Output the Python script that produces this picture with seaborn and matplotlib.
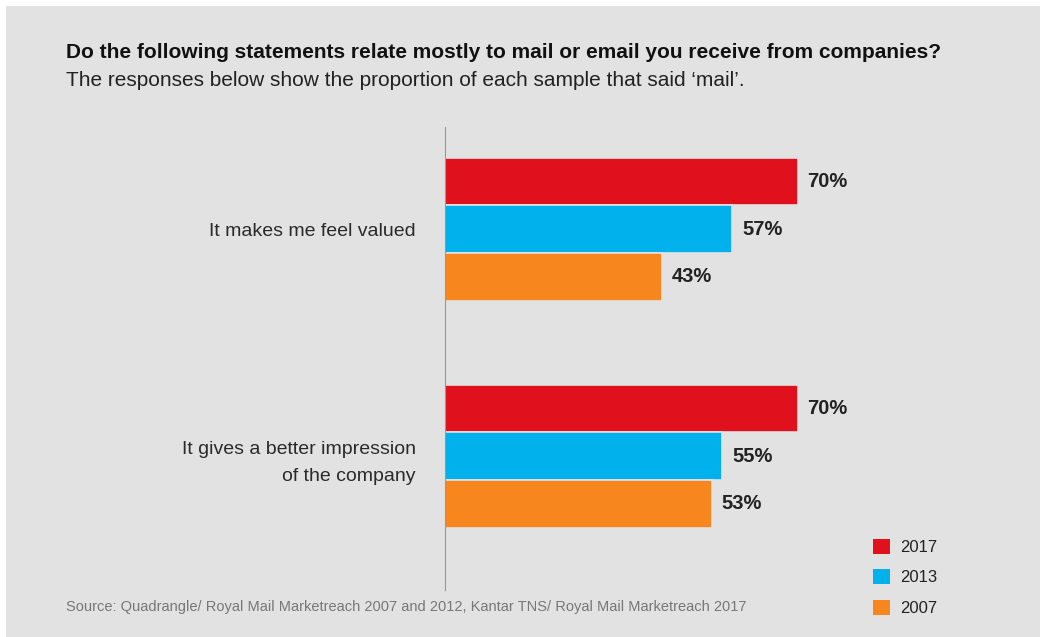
import pandas as pd
import matplotlib.pyplot as plt
import seaborn as sns
from matplotlib.patches import Patch, Rectangle


statements = [
    "It makes me feel valued",
    "It gives a better impression\nof the company",
]
years = ["2017", "2013", "2007"]
pct_2017 = [70, 70]
pct_2013 = [57, 55]
pct_2007 = [43, 53]

colors = ["#e1101d", "#00b1ec", "#f7861f"]

df = pd.DataFrame({
    "statement": statements * 3,
    "year": [y for y in years for _ in statements],
    "pct": pct_2017 + pct_2013 + pct_2007,
})

sns.set_style("white")
plt.rcParams["font.family"] = ["Liberation Sans", "DejaVu Sans"]

fig = plt.figure(figsize=(10.41, 6.37), dpi=100)
fig.patch.set_facecolor("white")
fig.add_artist(Rectangle(
    (6 / 1041, 0), 1 - 7 / 1041, 1 - 6 / 637,
    transform=fig.transFigure, facecolor="#e2e2e2",
    edgecolor="none", zorder=0
))

ax = fig.add_axes([445 / 1041, 1 - 590 / 637, 460 / 1041, 463 / 637])
ax.set_facecolor("none")

sns.barplot(
    data=df,
    y="statement",
    x="pct",
    hue="year",
    hue_order=years,
    palette=colors,
    saturation=1,
    orient="h",
    width=0.63,
    linewidth=1.2,
    edgecolor="#e2e2e2",
    legend=False,
    ax=ax,
)

for cont in ax.containers:
    ax.bar_label(
        cont, fmt="%d%%", padding=7,
        fontsize=14.5, fontweight="bold", color="#222222"
    )

ax.set_xlim(0, 460 / 5.04)
ax.set_ylim(1.59, -0.45)
ax.set_xlabel("")
ax.set_ylabel("")
ax.set_xticks([])

ax.set_yticks([-0.445, 0.5, 1.585], minor=True)
ax.tick_params(axis="y", which="major", length=0, pad=21,
               labelsize=14, labelcolor="#2a2a2a")
ax.tick_params(axis="y", which="minor", length=5, width=0.8,
               color="#999999", direction="out")
for lbl in ax.get_yticklabels():
    lbl.set_horizontalalignment("right")
    lbl.set_multialignment("right")
    lbl.set_linespacing(1.75)

for side in ["top", "right", "bottom"]:
    ax.spines[side].set_visible(False)
ax.spines["left"].set_color("#999999")
ax.spines["left"].set_linewidth(0.8)

fig.text(
    66 / 1041, 1 - 52 / 637,
    "Do the following statements relate mostly to mail or email you receive from companies?",
    fontsize=15, fontweight="bold", color="#111111",
    va="center", ha="left"
)
fig.text(
    66 / 1041, 1 - 80 / 637,
    "The responses below show the proportion of each sample that said \u2018mail\u2019.",
    fontsize=15, color="#222222",
    va="center", ha="left"
)
fig.text(
    66 / 1041, 1 - 607 / 637,
    "Source: Quadrangle/ Royal Mail Marketreach 2007 and 2012, Kantar TNS/ Royal Mail Marketreach 2017",
    fontsize=10.5, color="#777777",
    va="center", ha="left"
)

handles = [Patch(facecolor=c, edgecolor="none") for c in colors]
fig.legend(
    handles, years,
    loc="upper left",
    bbox_to_anchor=(858 / 1041, 1 - 524 / 637),
    frameon=False,
    fontsize=12,
    labelcolor="#222222",
    handlelength=1.0,
    handleheight=1.0,
    handletextpad=0.6,
    labelspacing=0.85,
)

plt.savefig("out.png", dpi=100, facecolor=fig.get_facecolor())
